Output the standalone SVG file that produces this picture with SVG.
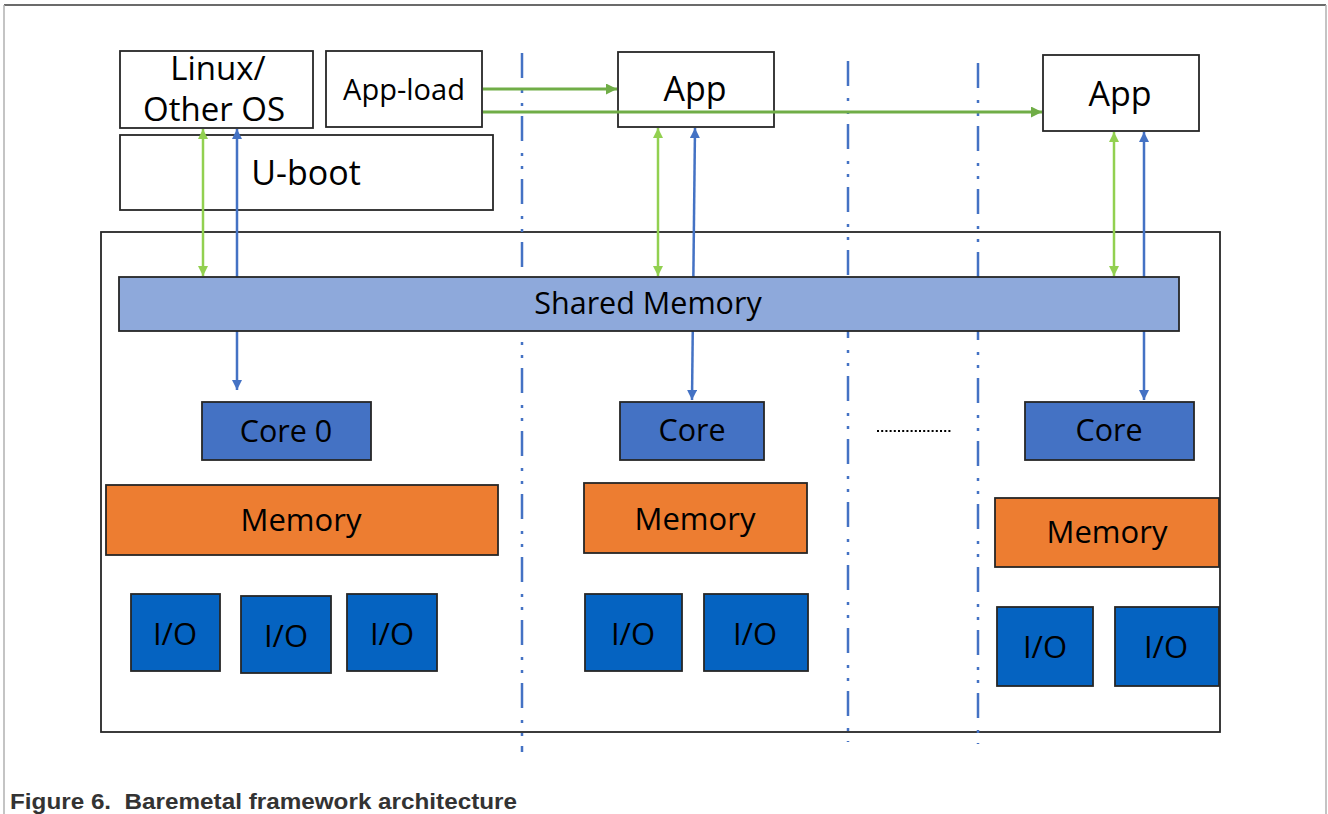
<svg xmlns="http://www.w3.org/2000/svg" width="1328" height="814" viewBox="0 0 1328 814">
<style>
.box{fill:#ffffff;stroke:#262626;stroke-width:1.8}
.sm{fill:#8EA9DB;stroke:#262626;stroke-width:1.8}
.core{fill:#4472C4;stroke:#262626;stroke-width:1.8}
.mem{fill:#ED7D31;stroke:#262626;stroke-width:1.8}
.io{fill:#0563C1;stroke:#262626;stroke-width:1.8}
.t{font-family:"Open Sans","Noto Sans",sans-serif;fill:#000;text-anchor:middle;dominant-baseline:central}
.dd{stroke:#4472C4;stroke-width:2.5;fill:none;stroke-dasharray:25 12 3 10 3 10}
.gv{stroke:#92D050;stroke-width:2.5;fill:none}
.gh{stroke:#70AD47;stroke-width:3;fill:none}
.bl{stroke:#4472C4;stroke-width:2.5;fill:none}
</style>
<defs>
<marker id="ag" viewBox="0 0 10 10" refX="10" refY="5" markerUnits="userSpaceOnUse" markerWidth="11" markerHeight="10" orient="auto-start-reverse"><path d="M0,0 L10,5 L0,10 z" fill="#92D050"/></marker>
<marker id="agh" viewBox="0 0 10 10" refX="10" refY="5" markerUnits="userSpaceOnUse" markerWidth="12" markerHeight="11" orient="auto-start-reverse"><path d="M0,0 L10,5 L0,10 z" fill="#70AD47"/></marker>
<marker id="ab" viewBox="0 0 10 10" refX="10" refY="5" markerUnits="userSpaceOnUse" markerWidth="11" markerHeight="10" orient="auto-start-reverse"><path d="M0,0 L10,5 L0,10 z" fill="#4472C4"/></marker>
</defs>
<rect width="1328" height="814" fill="#ffffff"/>
<g id="frame">
<line x1="4" y1="5" x2="1326" y2="5" stroke="#3a3a3a" stroke-width="1.5"/>
<line x1="4" y1="5" x2="4" y2="814" stroke="#b0b0b0" stroke-width="1.5"/>
<line x1="1326" y1="5" x2="1326" y2="814" stroke="#b0b0b0" stroke-width="1.5"/>
</g>
<g id="platform"><rect class="box" x="101" y="232" width="1119" height="500"/></g>
<g id="linux"><rect class="box" x="120" y="51" width="193" height="77"/>
<text class="t" x="218" y="67" font-size="33">Linux/</text>
<text class="t" x="214" y="108" font-size="33">Other OS</text></g>
<g id="appload"><rect class="box" x="326" y="51" width="156" height="76"/>
<text class="t" x="404" y="88" font-size="29">App-load</text></g>
<g id="uboot"><rect class="box" x="120" y="135" width="373" height="75"/>
<text class="t" x="306" y="172" font-size="34">U-boot</text></g>
<g id="app1"><rect class="box" x="618" y="52" width="156" height="75"/>
<text class="t" x="695" y="88" font-size="34">App</text></g>
<g id="app2"><rect class="box" x="1043" y="55" width="156" height="76"/>
<text class="t" x="1120" y="93" font-size="34">App</text></g>
<g id="core0"><rect class="core" x="202" y="402" width="169" height="58"/>
<text class="t" x="286" y="430" font-size="30.5">Core 0</text></g>
<g id="core1"><rect class="core" x="620" y="402" width="144" height="58"/>
<text class="t" x="692" y="429" font-size="30.5">Core</text></g>
<g id="core2"><rect class="core" x="1025" y="402" width="169" height="58"/>
<text class="t" x="1109" y="429" font-size="30.5">Core</text></g>
<g id="mem0"><rect class="mem" x="106" y="485" width="392" height="70"/>
<text class="t" x="301" y="519" font-size="31">Memory</text></g>
<g id="mem1"><rect class="mem" x="584" y="483" width="223" height="70"/>
<text class="t" x="695" y="518" font-size="31">Memory</text></g>
<g id="mem2"><rect class="mem" x="995" y="498" width="224" height="69"/>
<text class="t" x="1107" y="531" font-size="31">Memory</text></g>
<g id="io0a"><rect class="io" x="131" y="594" width="89" height="77"/><text class="t" x="175" y="633" font-size="31">I/O</text></g>
<g id="io0b"><rect class="io" x="241" y="596" width="90" height="77"/><text class="t" x="286" y="635" font-size="31">I/O</text></g>
<g id="io0c"><rect class="io" x="347" y="594" width="90" height="77"/><text class="t" x="392" y="633" font-size="31">I/O</text></g>
<g id="io1a"><rect class="io" x="585" y="594" width="97" height="77"/><text class="t" x="633" y="633" font-size="31">I/O</text></g>
<g id="io1b"><rect class="io" x="704" y="594" width="104" height="77"/><text class="t" x="755" y="633" font-size="31">I/O</text></g>
<g id="io2a"><rect class="io" x="997" y="607" width="96" height="79"/><text class="t" x="1045" y="646" font-size="31">I/O</text></g>
<g id="io2b"><rect class="io" x="1115" y="607" width="104" height="79"/><text class="t" x="1166" y="646" font-size="31">I/O</text></g>
<g id="separators">
<line class="dd" x1="522" y1="53" x2="522" y2="752"/>
<line class="dd" x1="848" y1="61" x2="848" y2="742"/>
<line class="dd" x1="978" y1="63" x2="978" y2="744"/>
<line x1="877" y1="431" x2="952" y2="431" stroke="#000" stroke-width="2" stroke-dasharray="2 2.2"/>
</g>
<g id="connectors">
<line class="gv" x1="203" y1="129" x2="203" y2="276" marker-start="url(#ag)" marker-end="url(#ag)"/>
<line class="bl" x1="237" y1="129" x2="237" y2="390" marker-start="url(#ab)" marker-end="url(#ab)"/>
<line class="gv" x1="658" y1="128" x2="658" y2="276" marker-start="url(#ag)" marker-end="url(#ag)"/>
<line class="bl" x1="695" y1="128" x2="692" y2="400" marker-start="url(#ab)" marker-end="url(#ab)"/>
<line class="gv" x1="1114" y1="132" x2="1114" y2="276" marker-start="url(#ag)" marker-end="url(#ag)"/>
<line class="bl" x1="1144" y1="132" x2="1144" y2="400" marker-start="url(#ab)" marker-end="url(#ab)"/>
<line class="gh" x1="483" y1="89" x2="617" y2="89" marker-end="url(#agh)"/>
<line class="gh" x1="483" y1="112" x2="1042" y2="112" marker-end="url(#agh)"/>
</g>
<g id="shared"><rect class="sm" x="119" y="277" width="1060" height="54"/>
<text class="t" x="648" y="302" font-size="30.5">Shared Memory</text></g>
<g id="caption"><text xml:space="preserve" x="10" y="809" font-family="'Liberation Sans',Arial,sans-serif" font-weight="bold" font-size="22" fill="#333333" textLength="507" lengthAdjust="spacingAndGlyphs">Figure 6.  Baremetal framework architecture</text></g>
</svg>
